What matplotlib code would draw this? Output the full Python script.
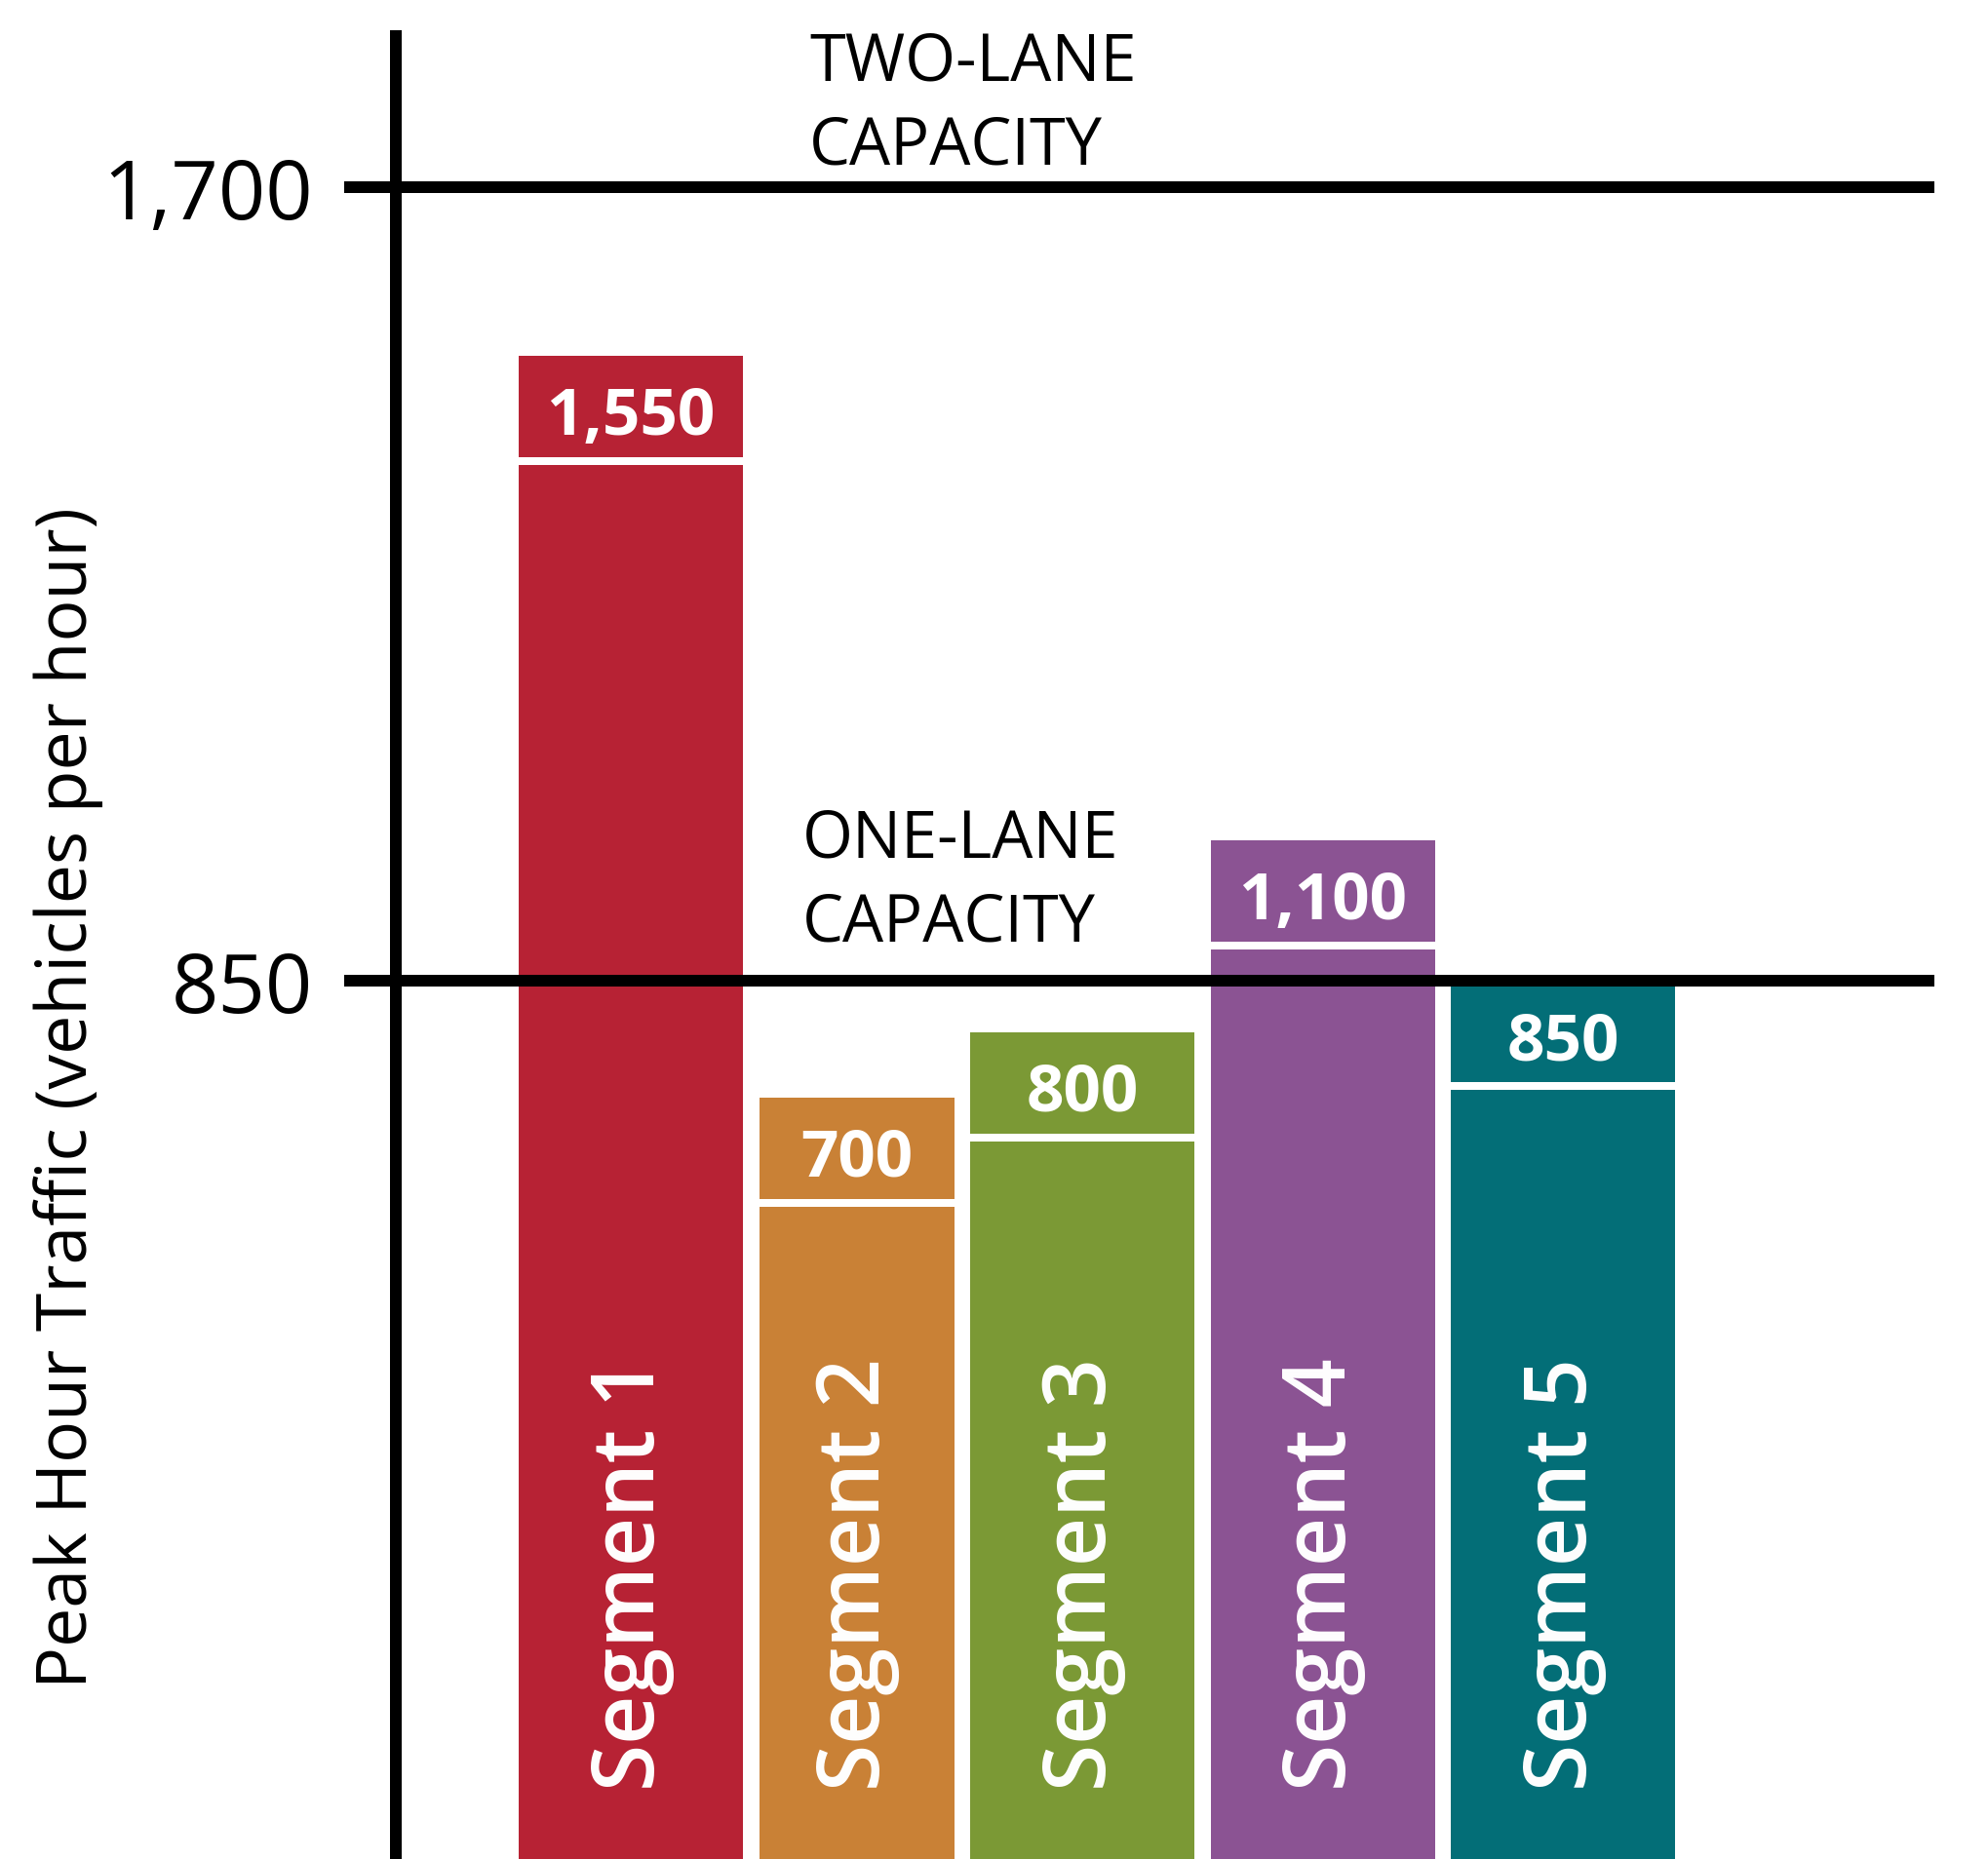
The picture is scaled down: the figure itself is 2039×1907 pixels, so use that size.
import numpy as np
import matplotlib.pyplot as plt

plt.rcParams["font.family"] = ["Open Sans", "DejaVu Sans"]

# --- data -------------------------------------------------------------
segments = ["Segment 1", "Segment 2", "Segment 3", "Segment 4", "Segment 5"]
peak_traffic = [1550, 700, 800, 1100, 850]      # values printed on the bars
drawn_heights = [1519, 725, 795, 1000, 850]     # bar tops as drawn in the graphic
capacity_levels = [850, 1700]
capacity_labels = [("ONE-LANE", "CAPACITY"), ("TWO-LANE", "CAPACITY")]
colors = ["#B72234", "#C98136", "#7B9935", "#8B5393", "#036E77"]

# --- layout -----------------------------------------------------------
W, H, DPI = 2039, 1908, 100
PX_PER_UNIT = 0.9582           # vertical pixels per vehicle/hour
Y_MIN, Y_MAX = -90, 1901
X_UNIT_PX = 230                # one x unit = width of a full bar
bar_widths = [1.0, 0.87, 1.0, 1.0, 1.0]
BAR_GAP = 0.072
FIRST_LEFT = 0.548
BAND = 104 / PX_PER_UNIT       # coloured label band on top of each bar
SEP = 8 / PX_PER_UNIT          # white separator under the band
LABEL_DROP = 80 / PX_PER_UNIT  # baseline of the value label below bar top
LW = 8.64                      # thick black rules (pt)

lefts = FIRST_LEFT + np.concatenate([[0], np.cumsum(np.array(bar_widths[:-1]) + BAR_GAP)])
centers = lefts + np.array(bar_widths) / 2

fig = plt.figure(figsize=(W / DPI, H / DPI), dpi=DPI)
ax_left = 406 / W
ax_right = 1984 / W
ax = fig.add_axes([ax_left, 0, ax_right - ax_left, 1])
ax.set_xlim(0, (1984 - 406) / X_UNIT_PX)
ax.set_ylim(Y_MIN, Y_MAX)

# bars
ax.bar(lefts, np.array(drawn_heights) - Y_MIN, bottom=Y_MIN, width=bar_widths,
       align="edge", color=colors, linewidth=0, zorder=1)
# white separator line below the label band
ax.bar(lefts, SEP, bottom=np.array(drawn_heights) - BAND - SEP, width=bar_widths,
       align="edge", color="white", linewidth=0, zorder=2)

for c, h, v, name in zip(centers, drawn_heights, peak_traffic, segments):
    ax.text(c, h - LABEL_DROP, f"{v:,}", ha="center", va="baseline",
            color="white", fontsize=48.5, fontweight="bold", zorder=3)
    ax.text(c, -16, name, rotation=90, ha="center", va="bottom",
            color="white", fontsize=63, fontweight="semibold", zorder=3)

# capacity rules
for lvl in capacity_levels:
    ax.axhline(lvl, color="black", lw=LW, zorder=4)

cap_x = [(823 - 406) / X_UNIT_PX, (830 - 406) / X_UNIT_PX]
cap_off = [(42 / PX_PER_UNIT, 128 / PX_PER_UNIT), (24.5 / PX_PER_UNIT, 110 / PX_PER_UNIT)]
for lvl, (l1, l2), x, (o2, o1) in zip(capacity_levels, capacity_labels, cap_x, cap_off):
    ax.text(x, lvl + o1, l1, ha="left", va="baseline", fontsize=48, color="black")
    ax.text(x, lvl + o2, l2, ha="left", va="baseline", fontsize=48, color="black")

# axes styling
for s in ["top", "right", "bottom"]:
    ax.spines[s].set_visible(False)
ax.spines["left"].set_linewidth(LW)
ax.spines["left"].set_bounds(Y_MIN, 1861)
ax.set_xticks([])
ax.set_yticks(capacity_levels)
ax.set_yticklabels([f"{v:,}" for v in capacity_levels])
ax.tick_params(axis="y", direction="out", length=38.2, width=LW, pad=23,
               labelsize=61, colors="black")

fig.text(70 / W, 1 - 1126 / H, "Peak Hour Traffic (vehicles per hour)",
         rotation=90, ha="center", va="center", fontsize=51.5, color="black")

fig.savefig("out.png", dpi=DPI)
